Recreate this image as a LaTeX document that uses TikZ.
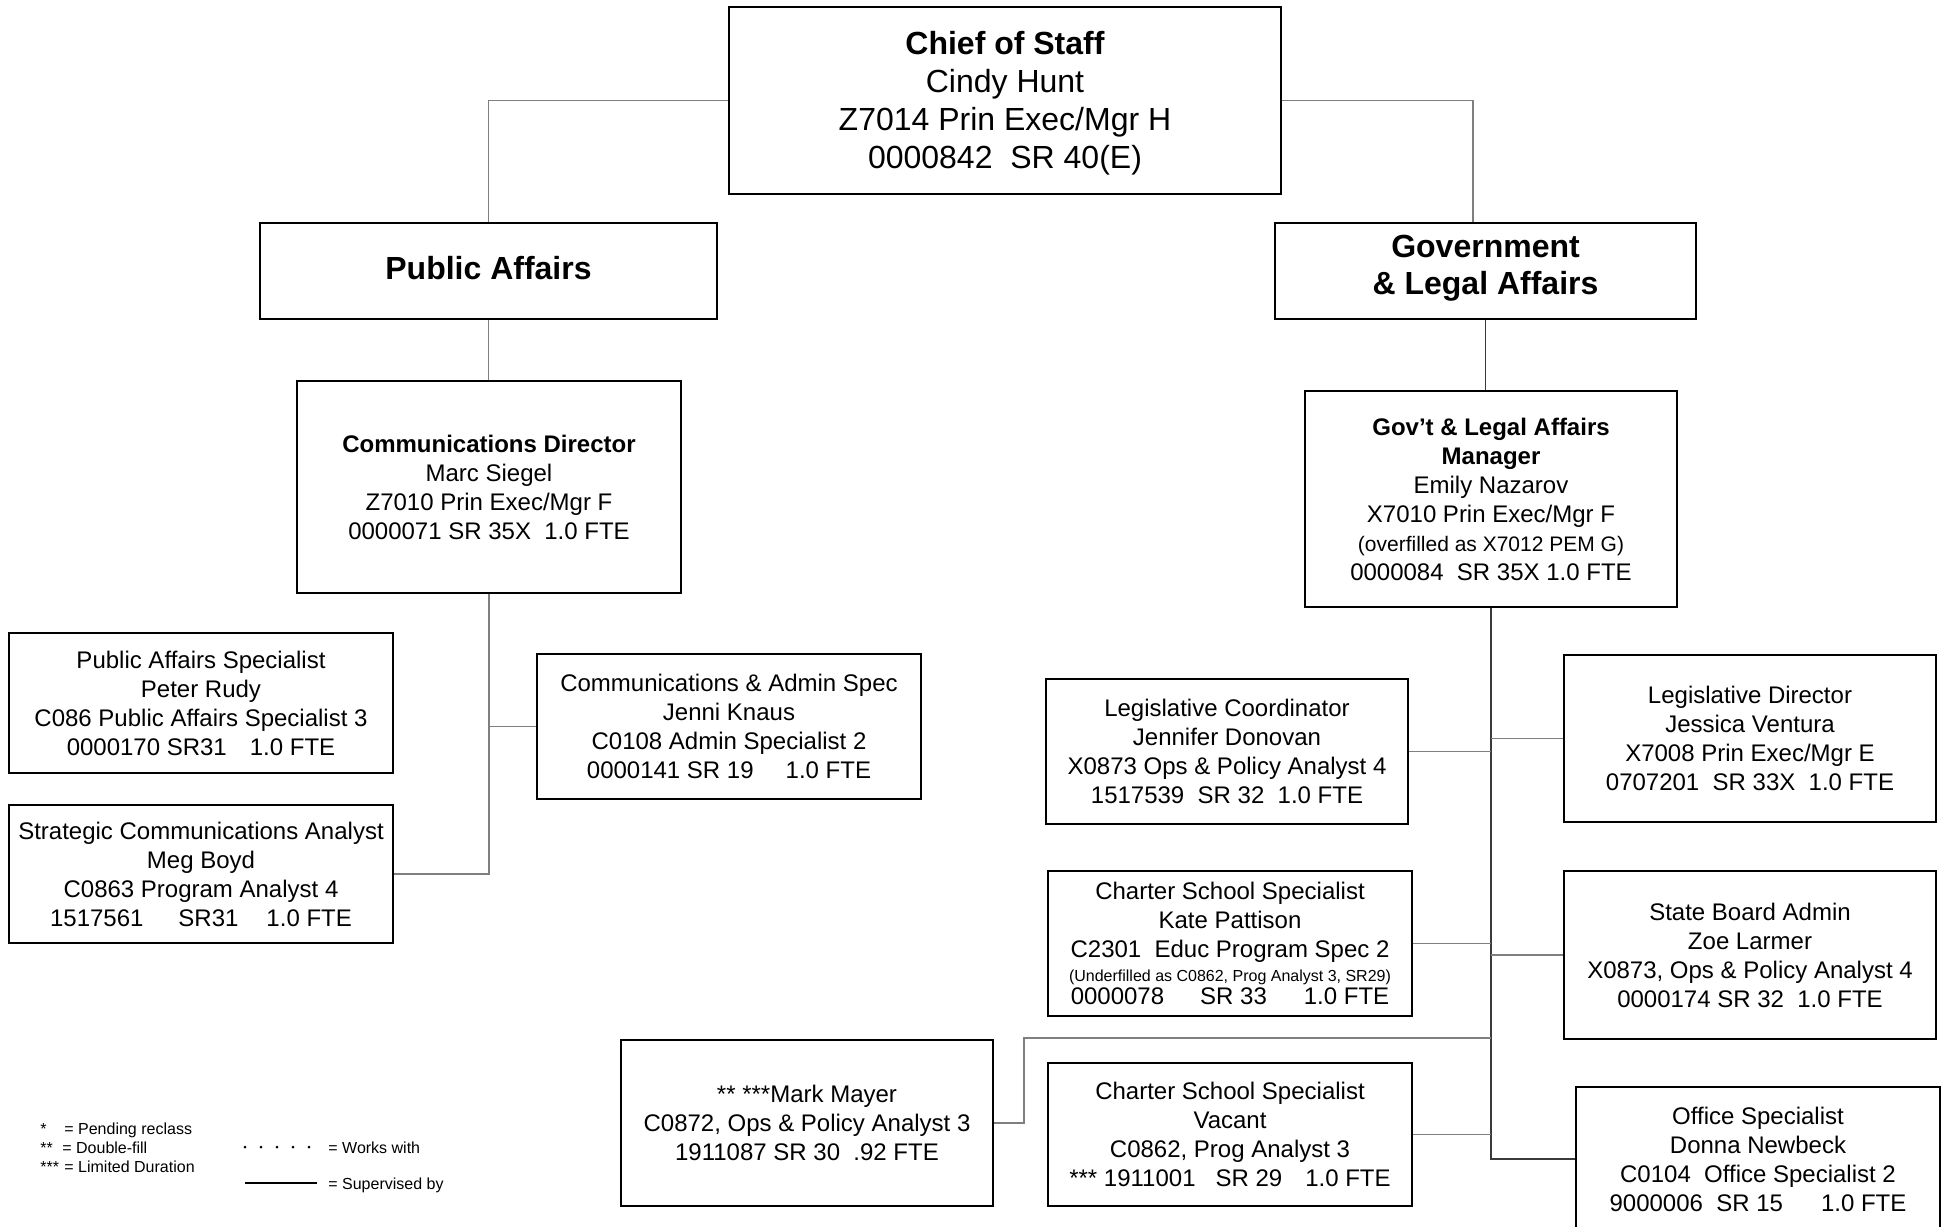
\documentclass[tikz,border=0pt]{standalone}
\usepackage{fontspec}
\setmainfont{Liberation Sans}
\definecolor{linkgray}{HTML}{7F7F7F}
\definecolor{linkdarkgray}{HTML}{3A3A3A}
\newcommand\sepgap[1]{\hspace*{#1pt}}
\begin{document}
\begin{tikzpicture}[x=0.5pt,y=-0.5pt,
  box/.style={draw=black, line width=1pt, fill=white, align=center, inner sep=0pt, text=black},
  norm/.style={font=\fontsize{12}{14.5}\selectfont},
  head/.style={font=\fontsize{16}{18.5}\selectfont\bfseries},
  link/.style={draw=linkgray, line width=0.8pt},
  linkdark/.style={draw=linkdarkgray, line width=0.7pt},
  legend/.style={font=\fontsize{8}{9.6}\selectfont, inner sep=0pt, text=black},
]
\useasboundingbox (0,0) rectangle (1954,1226);
\fill[white] (0,0) rectangle (1954,1226);
\clip (0,0) rectangle (1954,1226);

% top of the chart
\node[box, minimum width=276pt, minimum height=93.5pt] (chief) at (1005,100.5) {};
\node[align=center, inner sep=0pt, text=black, font=\fontsize{16}{19}\selectfont] (chieftext) at ([yshift=-1.25pt]chief.center)
  {\textbf{Chief of Staff}\\Cindy Hunt\\Z7014 Prin Exec/Mgr H\\0000842\ \ SR 40(E)};

% the two sections
\node[box, head, minimum width=228.5pt, minimum height=48pt, text depth=3pt] (pa) at (488.5,271) {Public Affairs};
\node[box, head, minimum width=210.5pt, minimum height=48pt, text depth=6pt] (gov) at (1485.5,271) {Government\\\& Legal Affairs};

% section heads
\node[box, norm, minimum width=192pt, minimum height=106pt] (cdir) at (489,487)
  {\textbf{Communications Director}\\Marc Siegel\\Z7010 Prin Exec/Mgr F\\0000071 SR 35X\ \ 1.0 FTE};
\node[box, norm, minimum width=186pt, minimum height=108pt] (mgr) at (1491,499)
  {\textbf{Gov’t \& Legal Affairs}\\\textbf{Manager}\\Emily Nazarov\\X7010 Prin Exec/Mgr F\\{\fontsize{10.5}{14.5}\selectfont (overfilled as X7012 PEM G)}\\0000084\ \ SR 35X 1.0 FTE};

% Public Affairs staff
\node[box, norm, minimum width=192pt, minimum height=70pt] (pas) at (201,703)
  {Public Affairs Specialist\\Peter Rudy\\C086 Public Affairs Specialist 3\\0000170 SR31\sepgap{11.5}1.0 FTE};
\node[box, norm, minimum width=192pt, minimum height=69pt] (sca) at (201,874)
  {Strategic Communications Analyst\\Meg Boyd\\C0863 Program Analyst 4\\1517561\sepgap{17.5}SR31\sepgap{14}1.0 FTE};
\node[box, norm, minimum width=192pt, minimum height=72.5pt] (cas) at (729,726.5)
  {Communications \& Admin Spec\\Jenni Knaus\\C0108 Admin Specialist 2\\0000141 SR 19\sepgap{16}1.0 FTE};

% Government & Legal Affairs staff
\node[box, norm, minimum width=181pt, minimum height=72.5pt] (lco) at (1227,751.5)
  {Legislative Coordinator\\Jennifer Donovan\\X0873 Ops \& Policy Analyst 4\\1517539\ \ SR 32\ \ 1.0 FTE};
\node[box, norm, minimum width=186pt, minimum height=83.5pt] (ldi) at (1750,738.5)
  {Legislative Director\\Jessica Ventura\\X7008 Prin Exec/Mgr E\\0707201\ \ SR 33X\ \ 1.0 FTE};
\node[box, norm, minimum width=182pt, minimum height=72.5pt] (kate) at (1230,943.5)
  {Charter School Specialist\\Kate Pattison\\C2301\ \ Educ Program Spec 2\\[-2.5pt]{\fontsize{8}{10}\selectfont (Underfilled as C0862, Prog Analyst 3, SR29)}\\[-3pt]0000078\sepgap{18}SR 33\sepgap{18.5}1.0 FTE};
\node[box, norm, minimum width=186pt, minimum height=84pt] (sba) at (1750,955)
  {State Board Admin\\Zoe Larmer\\X0873, Ops \& Policy Analyst 4\\0000174 SR 32\ \ 1.0 FTE};
\node[box, norm, minimum width=186pt, minimum height=83pt] (mark) at (807,1123)
  {** ***Mark Mayer\\C0872, Ops \& Policy Analyst 3\\1911087 SR 30\ \ .92 FTE};
\node[box, norm, minimum width=182pt, minimum height=71.5pt] (vac) at (1230,1134.5)
  {Charter School Specialist\\Vacant\\C0862, Prog Analyst 3\\*** 1911001\sepgap{10}SR 29\sepgap{11.5}1.0 FTE};
\node[box, norm, minimum width=182pt, minimum height=72pt] (off) at (1758,1159)
  {Office Specialist\\Donna Newbeck\\C0104\ \ Office Specialist 2\\9000006\ \ SR 15\sepgap{19}1.0 FTE};

% reporting lines
\draw[link] (chief.west) -| (pa.north);
\draw[link] (chief.east) -| ([xshift=-6.25pt]gov.north);
\draw[link] (pa.south) -- (pa.south |- cdir.north);
\draw[link] (cdir.south) |- (sca.east);
\draw[link] (cas.west) -- (cas.west -| cdir.south);
\draw[linkdark] (gov.south) -- (gov.south |- mgr.north);
\draw[linkdark] (mgr.south) |- (off.west);
\draw[link] (lco.east) -- (lco.east -| mgr.south);
\draw[link] (ldi.west) -- (ldi.west -| mgr.south);
\draw[link] (kate.east) -- (kate.east -| mgr.south);
\draw[link] (sba.west) -- (sba.west -| mgr.south);
\draw[link] (vac.east) -- (vac.east -| mgr.south);
\coordinate (mk) at (1024,1038);
\draw[link] (mark.east) -| (mk) -- (mk -| mgr.south);

% key
\node[legend, anchor=base west] (k1a) at (40,1134) {*};
\node[legend, anchor=base west] (k1b) at (64,1134) {= Pending reclass};
\node[legend, anchor=base west] (k2a) at (40,1153) {**};
\node[legend, anchor=base west] (k2b) at (62,1153) {= Double-fill};
\node[legend, anchor=base west] (k3a) at (40,1172) {***};
\node[legend, anchor=base west] (k3b) at (64,1172) {= Limited Duration};
\foreach \i in {0,...,4} \fill[black] (245+16*\i,1147) circle (0.75pt);
\node[legend, anchor=base west] (k4) at (328,1153) {= Works with};
\coordinate (ka) at (245,1183);
\coordinate (kb) at (317,1183);
\draw[black, line width=0.9pt] (ka) -- (kb);
\node[legend, anchor=base west] (k5) at (328,1189) {= Supervised by};
\end{tikzpicture}
\end{document}
